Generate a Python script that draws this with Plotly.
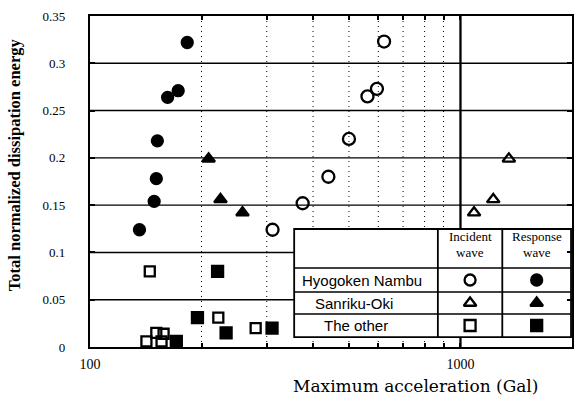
import math
import plotly.graph_objects as go

# Hyogoken Nambu earthquake
hyogo_inc_acc = [311, 375, 440, 500, 561, 595, 622]
hyogo_inc_energy = [0.124, 0.152, 0.180, 0.220, 0.265, 0.273, 0.323]
hyogo_res_acc = [136, 149, 151, 152, 162, 173, 183]
hyogo_res_energy = [0.124, 0.154, 0.178, 0.218, 0.264, 0.271, 0.322]

# Sanriku-Oki earthquake
sanriku_inc_acc = [1088, 1226, 1351]
sanriku_inc_energy = [0.142, 0.156, 0.199]
sanriku_res_acc = [258, 225, 209]
sanriku_res_energy = [0.142, 0.156, 0.199]

# Other records
other_inc_acc = [142, 151, 158, 156, 145, 222, 280]
other_inc_energy = [0.006, 0.015, 0.014, 0.006, 0.080, 0.031, 0.020]
other_res_acc = [171, 195, 221, 233, 310]
other_res_energy = [0.006, 0.031, 0.080, 0.015, 0.020]

x_range = [100, 2000]
x_tick_vals = [100, 200, 300, 400, 500, 600, 700, 800, 900, 1000]
x_tick_text = ["100", "", "", "", "", "", "", "", "", "1000"]
y_tick_vals = [0, 0.05, 0.1, 0.15, 0.2, 0.25, 0.3, 0.35]
y_tick_text = ["0", "0.05", "0.1", "0.15", "0.2", "0.25", "0.3", "0.35"]

legend_rows = ["Hyogoken Nambu", "Sanriku-Oki", "The other"]
legend_inc_symbols = ["circle-open", "triangle-up-open", "square-open"]
legend_res_symbols = ["circle", "triangle-up", "square"]

SERIF = "Liberation Serif, Times New Roman, serif"
WIDE_SERIF = "DejaVu Serif, serif"
SANS = "Liberation Sans, Arial, sans-serif"

lx0, lx1 = math.log10(x_range[0]), math.log10(x_range[1])


def xfrac(v):
    return (math.log10(v) - lx0) / (lx1 - lx0)


fig = go.Figure()


def add_points(xs, ys, symbol, size):
    fig.add_trace(go.Scatter(
        x=xs, y=ys, mode="markers",
        marker=dict(symbol=symbol, size=size, color="black",
                    line=dict(color="black", width=2.3)),
        showlegend=False, hoverinfo="skip",
    ))


add_points(hyogo_inc_acc, hyogo_inc_energy, "circle-open", 12)
add_points(hyogo_res_acc, hyogo_res_energy, "circle", 11)
add_points(sanriku_inc_acc, sanriku_inc_energy, "triangle-up-open", 11)
add_points(sanriku_res_acc, sanriku_res_energy, "triangle-up", 11)
add_points(other_inc_acc, other_inc_energy, "square-open", 10)
add_points(other_res_acc, other_res_energy, "square", 11)

# key table geometry (fractions of the plot area)
tx0, tx1 = 0.4236, 0.998
ty0, ty1 = 0.030, 0.3565
col1, col2 = 0.7217, 0.8554
row_lines = [0.2387, 0.1662, 0.0997]
row_centers = [0.2024, 0.1329, 0.065]
name_centers = [0.564, 0.547, 0.552]
inc_cx = (col1 + col2) / 2
res_cx = (col2 + tx1) / 2

# key symbols, on an overlay axis spanning the plot area
for i, row in enumerate(legend_rows):
    fig.add_trace(go.Scatter(
        x=[inc_cx, res_cx], y=[row_centers[i], row_centers[i]],
        xaxis="x2", yaxis="y2", mode="markers",
        marker=dict(symbol=[legend_inc_symbols[i], legend_res_symbols[i]],
                    size=11, color="black", line=dict(color="black", width=2.3)),
        showlegend=False, hoverinfo="skip",
    ))

shapes = []
# horizontal rules
for yv in y_tick_vals[1:-1]:
    shapes.append(dict(type="line", xref="x domain", yref="y", x0=0, x1=1, y0=yv, y1=yv,
                       line=dict(color="black", width=1.4), layer="below"))
# dotted rules at the intermediate accelerations
for xv in x_tick_vals[1:-1]:
    f = xfrac(xv)
    shapes.append(dict(type="line", xref="x domain", yref="y domain", x0=f, x1=f, y0=0, y1=1,
                       line=dict(color="black", width=1, dash="1px,4px"), layer="below"))
# heavy rule at 1000 Gal
f1000 = xfrac(1000)
shapes.append(dict(type="line", xref="x domain", yref="y domain", x0=f1000, x1=f1000, y0=0, y1=1,
                   line=dict(color="black", width=2.3), layer="below"))
# key table background and frame
shapes.append(dict(type="rect", xref="x domain", yref="y domain",
                   x0=tx0, x1=tx1, y0=ty0, y1=ty1,
                   fillcolor="white", line=dict(color="black", width=1.8), layer="below"))
for yl in row_lines:
    shapes.append(dict(type="line", xref="x domain", yref="y domain",
                       x0=tx0, x1=tx1, y0=yl, y1=yl,
                       line=dict(color="black", width=1.5), layer="below"))
for xl in (col1, col2):
    shapes.append(dict(type="line", xref="x domain", yref="y domain",
                       x0=xl, x1=xl, y0=ty0, y1=ty1,
                       line=dict(color="black", width=1.8), layer="below"))

annotations = []
for i, row in enumerate(legend_rows):
    annotations.append(dict(xref="x domain", yref="y domain", x=name_centers[i], y=row_centers[i],
                            text=row, showarrow=False, xanchor="center", yanchor="middle",
                            font=dict(family=SANS, size=15, color="black")))
head_top, head_bot = 0.335, 0.287
for cx, (w1, w2) in ((inc_cx, ("Incident", "wave")), (res_cx, ("Response", "wave"))):
    annotations.append(dict(xref="x domain", yref="y domain", x=cx, y=head_top, text=w1,
                            showarrow=False, xanchor="center", yanchor="middle",
                            font=dict(family=SERIF, size=13, color="black")))
    annotations.append(dict(xref="x domain", yref="y domain", x=cx, y=head_bot, text=w2,
                            showarrow=False, xanchor="center", yanchor="middle",
                            font=dict(family=SERIF, size=13, color="black")))
# axis titles
annotations.append(dict(xref="paper", yref="paper", x=-0.155, y=0.55,
                        text="<b>Total normalized dissipation energy</b>", textangle=-90,
                        showarrow=False, xanchor="center", yanchor="middle",
                        font=dict(family=SERIF, size=16.5, color="black")))
annotations.append(dict(xref="paper", yref="paper", x=0.676, y=-0.118,
                        text="Maximum acceleration (Gal)",
                        showarrow=False, xanchor="center", yanchor="middle",
                        font=dict(family=WIDE_SERIF, size=17, color="black")))

fig.update_layout(
    width=577, height=398,
    margin=dict(l=90, r=3, t=16, b=51),
    paper_bgcolor="white", plot_bgcolor="white",
    font=dict(family=SERIF, size=13, color="black"),
    shapes=shapes, annotations=annotations,
    xaxis=dict(
        type="log", range=[lx0, lx1],
        tickvals=x_tick_vals, ticktext=x_tick_text,
        ticks="inside", ticklen=4, tickwidth=1.5, tickcolor="black",
        showline=True, linecolor="black", linewidth=2.3, mirror="ticks",
        showgrid=False, zeroline=False,
        ticklabelstandoff=3,
        tickfont=dict(family=SERIF, size=14),
    ),
    yaxis=dict(
        range=[0, 0.35],
        tickvals=y_tick_vals, ticktext=y_tick_text,
        ticks="inside", ticklen=5, tickwidth=1.5, tickcolor="black",
        showline=True, linecolor="black", linewidth=2.3, mirror="ticks",
        showgrid=False, zeroline=False,
        ticklabelstandoff=20,
        tickfont=dict(family=SERIF, size=13),
    ),
    xaxis2=dict(overlaying="x", range=[0, 1], visible=False, fixedrange=True),
    yaxis2=dict(overlaying="y", range=[0, 1], visible=False, fixedrange=True),
)

fig.write_html("out.html")
